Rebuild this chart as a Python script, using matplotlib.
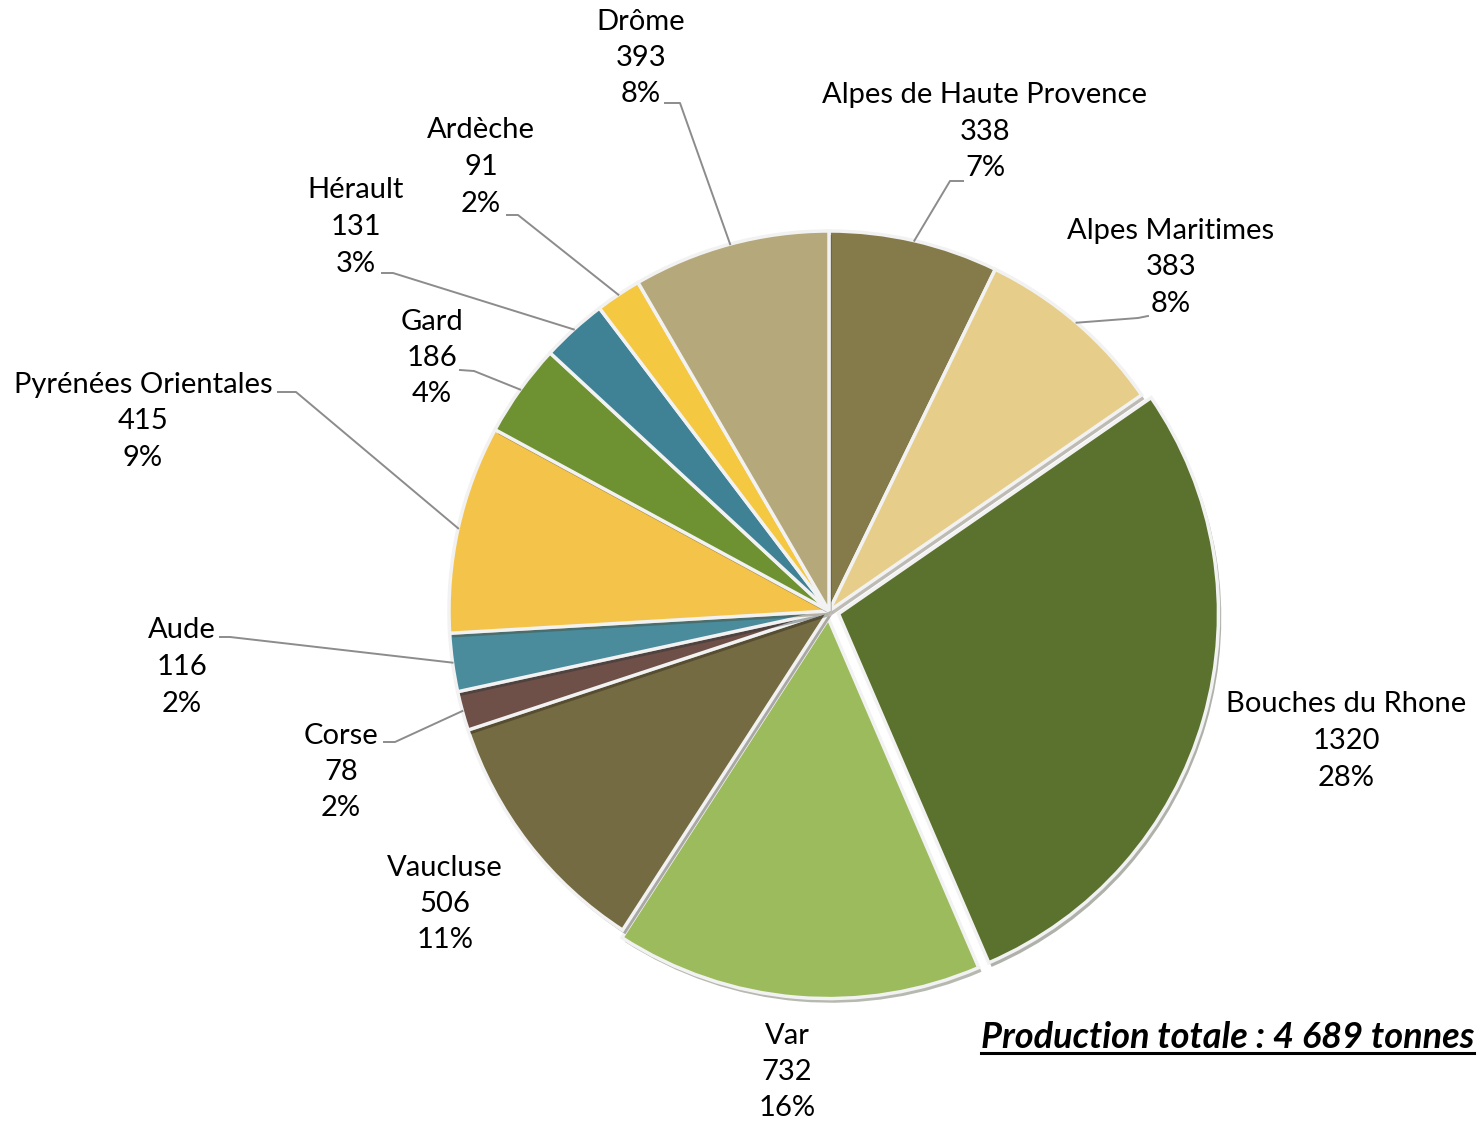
import numpy as np
import matplotlib.pyplot as plt
import matplotlib.patheffects as pe

plt.rcParams['font.family'] = ['Lato', 'DejaVu Sans']

# donnees
departements = ["Alpes de Haute Provence", "Alpes Maritimes", "Bouches du Rhone", "Var",
                "Vaucluse", "Corse", "Aude", "Pyrénées Orientales", "Gard", "Hérault",
                "Ardèche", "Drôme"]
tonnes = [338, 383, 1320, 732, 506, 78, 116, 415, 186, 131, 91, 393]
couleurs = ["#857A4A", "#E6CE8A", "#5A722E", "#9BBB5C", "#756B42", "#6E5048",
            "#4A8B9C", "#F4C34A", "#6E9232", "#3F8296", "#F5C842", "#B5A87A"]
eclate = [0, 0, 0.026, 0.02, 0, 0, 0, 0, 0, 0, 0, 0]
titre = "Production totale : 4 689 tonnes"

# mise en page (pixels, origine en haut a gauche)
W, H = 1480, 1123
cx, cy, R = 829, 611, 380
label_pos = [(985, 132), (1171, 267), (1346, 741), (787, 1072), (445, 904), (341, 772),
             (182, 667), (143, 421), (432, 358), (356, 227), (481, 167), (641, 58)]
# petit trait horizontal avant la ligne de rappel (None = pas de ligne)
stubs = [((963, 181), (950, 181)), ((1148, 316), (1138, 318)), None, None, None,
         ((384, 742), (395, 742)), ((220, 637), (230, 637)), ((278, 392), (296, 392)),
         ((460, 370), (474, 371)), ((382, 273), (393, 273)), ((507, 215), (518, 215)),
         ((665, 103), (680, 103))]

fig = plt.figure(figsize=(W / 100, H / 100), dpi=100)
ax = fig.add_axes([0, 0, 1, 1])

# matplotlib applique explode sans multiplier par le rayon
wedges, _ = ax.pie(tonnes, colors=couleurs, explode=[e * R for e in eclate],
                   startangle=90, counterclock=False, radius=R, center=(cx, H - cy),
                   wedgeprops=dict(edgecolor='#f2f2f2', linewidth=2.5))
ax.set_xlim(0, W)
ax.set_ylim(0, H)
ax.set_aspect('equal')
ax.axis('off')
for w in wedges:
    w.set_path_effects([pe.SimplePatchShadow(offset=(2, -3), alpha=0.35), pe.Normal()])

total = sum(tonnes)
for i, (nom, v) in enumerate(zip(departements, tonnes)):
    pct = round(v / total * 100)
    lx, ly = label_pos[i]
    ax.text(lx, H - ly, f"{nom}\n{v}\n{pct}%", ha='center', va='center',
            fontsize=21, linespacing=1.5, color='black')
    if stubs[i] is not None:
        w = wedges[i]
        mid = np.deg2rad((w.theta1 + w.theta2) / 2)
        ex, ey = w.center
        px_, py_ = ex + R * np.cos(mid), ey + R * np.sin(mid)
        (x0, y0), (x1, y1) = stubs[i]
        ax.plot([x0, x1, px_], [H - y0, H - y1, py_], color='#8c8c8c', lw=1.4)

t = ax.text(1474, H - 1037, titre, ha='right', va='center', fontsize=26,
            fontweight='bold', fontstyle='italic')
fig.canvas.draw()
bb = t.get_window_extent().transformed(ax.transData.inverted())
ax.plot([bb.x0, bb.x1], [bb.y0 + 1, bb.y0 + 1], color='black', lw=2.2)

fig.savefig("out.png", dpi=100)
